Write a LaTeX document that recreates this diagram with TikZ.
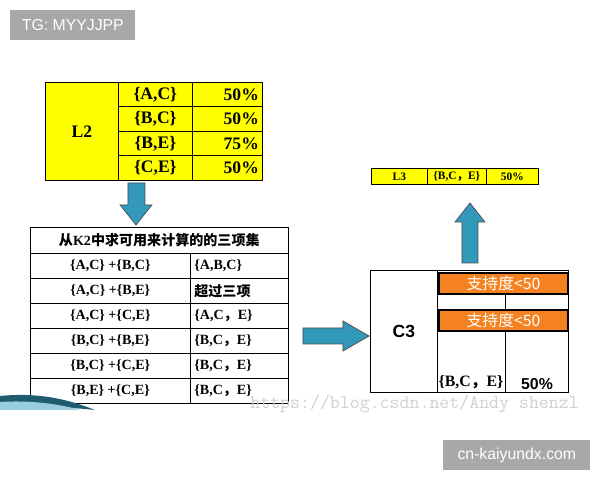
\documentclass[tikz,border=0pt]{standalone}
\usepackage{fontspec}
\setmainfont{Liberation Serif}
\setsansfont{Liberation Sans}
\newfontfamily\zh{Noto Sans CJK SC}
\newcommand{\zc}{{\zh ，}}

\definecolor{tabyellow}{HTML}{FFFF00}
\definecolor{arrowblue}{HTML}{3399BB}
\definecolor{barorange}{HTML}{F58220}
\definecolor{taggray}{HTML}{A8A8A8}

\begin{document}
\begin{tikzpicture}[x=0.02cm, y=-0.02cm,
    every node/.style={inner sep=0pt, font=\bfseries},
    cell/.style={draw, rectangle, anchor=north west},
    ycell/.style={cell, fill=tabyellow, font=\bfseries\fontsize{10}{12}\selectfont},
    scell/.style={ycell, minimum width=1.48cm, minimum height=0.49cm},
    pcell/.style={ycell, minimum width=1.40cm, minimum height=0.49cm, text width=1.26cm, align=right},
    tcell/.style={cell, font=\bfseries\fontsize{8}{9}\selectfont},
    blockarrow/.style={draw=black!70, fill=arrowblue},
    orangebar/.style={draw, very thick, fill=barorange, anchor=north west, minimum width=2.58cm, minimum height=0.42cm, text=white, font=\sffamily\zh\fontsize{9}{10}\selectfont},
    tag/.style={fill=taggray, text=white, font=\sffamily\fontsize{9}{10}\selectfont, anchor=north west},
    ]
  \useasboundingbox (0,0) rectangle (600,480);
  \fill[white] (0,0) rectangle (600,480);

  % watermark tags
  \node[tag, minimum width=2.5cm, minimum height=0.6cm] (tg) at (10,10) {TG: MYYJJPP};
  \node[tag, minimum width=2.94cm, minimum height=0.6cm] (site) at (443,440) {cn-kaiyundx.com};

  % L2 table
  \node[ycell, minimum width=1.46cm, minimum height=1.96cm] (l2) at (45,82) {L2};
  \node[scell] (s0) at (118,82) {\{A,C\}};
  \node[scell] (s1) at (118,106.5) {\{B,C\}};
  \node[scell] (s2) at (118,131) {\{B,E\}};
  \node[scell] (s3) at (118,155.5) {\{C,E\}};
  \foreach \p [count=\i from 0] in {50,50,75,50}
    \node[pcell] (p\i) at (192,82+24.5*\i) {\p\%};

  % down arrow
  \draw[blockarrow] (128,183) -- (145,183) -- (145,205) -- (152,205) -- (136,225) -- (120,205) -- (128,205) -- cycle;

  % candidate table
  \node[tcell, minimum width=5.16cm, minimum height=0.52cm] (head) at (30,227) {{\zh 从}K2{\zh 中求可用来计算的的三项集}};
  \foreach \l/\r [count=\i from 0] in {{\{A,C\} +\{B,C\}}/{\{A,B,C\}}, {\{A,C\} +\{B,E\}}/{{\zh 超过三项}}, {\{A,C\} +\{C,E\}}/{\{A,C\zc E\}}, {\{B,C\} +\{B,E\}}/{\{B,C\zc E\}}, {\{B,C\} +\{C,E\}}/{\{B,C\zc E\}}, {\{B,E\} +\{C,E\}}/{\{B,C\zc E\}}}{
    \node[tcell, minimum width=3.2cm, minimum height=0.5cm] (cl\i) at (30,253+25*\i) {\l};
    \node[tcell, minimum width=1.96cm, minimum height=0.5cm, text width=1.8cm] (cr\i) at (190,253+25*\i) {\r};
  }

  % blue swoosh
  \fill[arrowblue!60!black] (0,396) .. controls (40,392) and (70,400) .. (95,410) .. controls (60,406) and (30,408) .. (0,410) -- cycle;
  \fill[arrowblue!50] (0,402) .. controls (30,400) and (60,404) .. (80,410) -- (0,410) -- cycle;

  % right arrow
  \draw[blockarrow] (303,328) -- (343,328) -- (343,321) -- (369,336) -- (343,351) -- (343,344) -- (303,344) -- cycle;

  % C3 table
  \node[draw, anchor=north west, minimum width=1.34cm, minimum height=2.44cm, font=\sffamily\bfseries\fontsize{10}{11}\selectfont] (c3) at (370,270) {C3};
  \node[draw, anchor=north west, minimum width=2.62cm, minimum height=2.44cm] (c3r) at (437,270) {};
  \draw (437,292) -- (568,292);
  \draw (505,292) -- (505,309) (505,331) -- (505,392);
  \node[orangebar] (bar1) at (438,272) {支持度<50};
  \node[orangebar] (bar2) at (438,309) {支持度<50};
  \node[font=\bfseries\fontsize{9}{10}\selectfont] (set) at (471,382) {\{B,C\zc E\}};
  \node[font=\sffamily\bfseries\fontsize{9}{10}\selectfont] (sup) at (537,384) {50\%};

  % up arrow
  \draw[blockarrow] (462,263) -- (478,263) -- (478,222) -- (485,222) -- (470,203) -- (455,222) -- (462,222) -- cycle;

  % L3 row
  \node[ycell, minimum width=1.12cm, minimum height=0.32cm, font=\bfseries\fontsize{6.5}{8}\selectfont] (l31) at (371,168) {L3};
  \node[ycell, minimum width=1.18cm, minimum height=0.32cm, font=\bfseries\fontsize{6.5}{8}\selectfont] (l32) at (427,168) {\{B,C\zc E\}};
  \node[ycell, minimum width=1.04cm, minimum height=0.32cm, font=\bfseries\fontsize{6.5}{8}\selectfont] (l33) at (486,168) {50\%};

  % csdn watermark
  \node[text=black!18, font=\ttfamily\fontsize{11}{12}\selectfont, anchor=west] (wm) at (250,404) {https://blog.csdn.net/Andy shenzl};
\end{tikzpicture}
\end{document}
